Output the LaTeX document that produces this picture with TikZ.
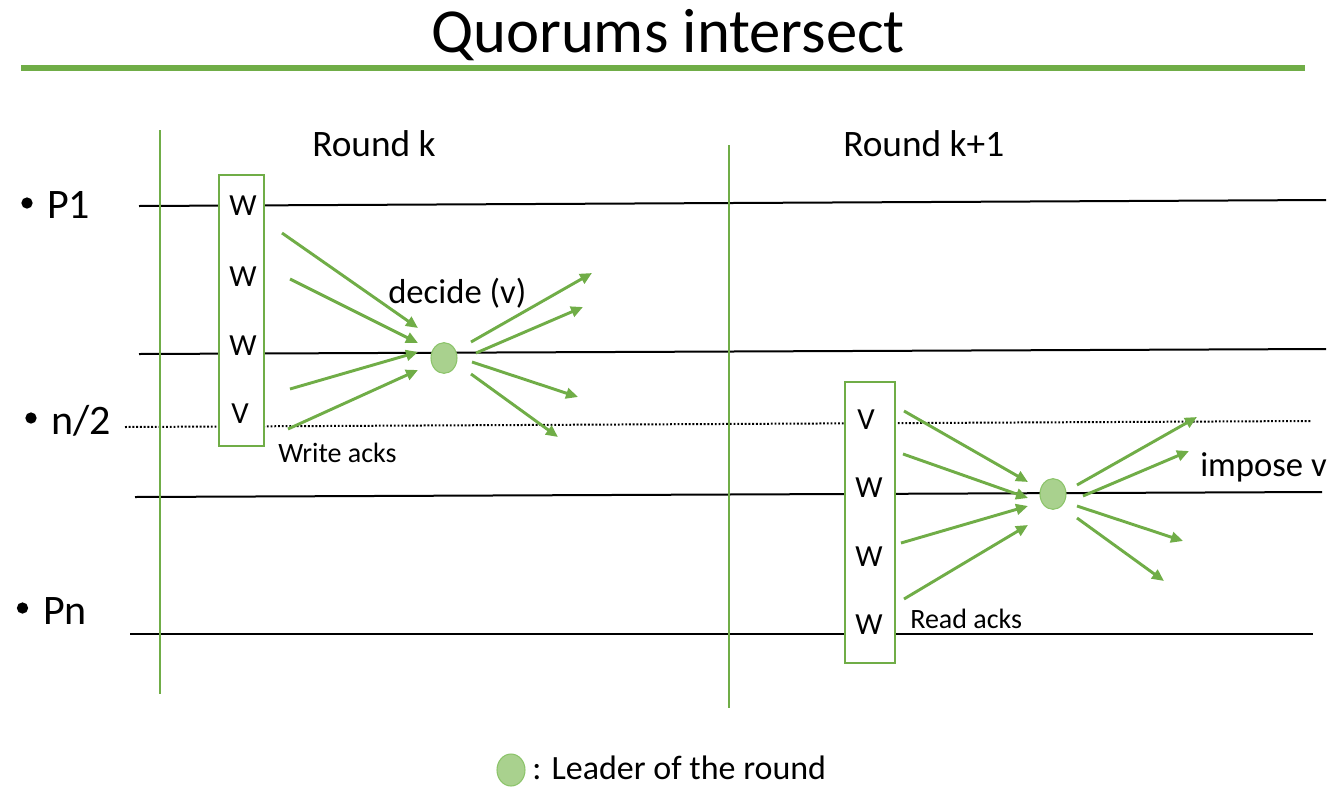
\documentclass[tikz,border=0pt]{standalone}
\usepackage{fontspec}
\setmainfont{Carlito}
\usetikzlibrary{arrows.meta,shapes.geometric}
\definecolor{ogreen}{HTML}{70AD47}
\definecolor{leaderfill}{HTML}{A9D18E}
\definecolor{leaderedge}{HTML}{8CC46A}
\begin{document}
\begin{tikzpicture}[x=0.75pt,y=-0.75pt,
  timeline/.style={line width=1.5pt,black},
  halfline/.style={line width=1.5pt,black,dash pattern=on 1.4pt off 1.4pt},
  roundline/.style={line width=1.5pt,ogreen},
  msg/.style={line width=2.2pt,ogreen,-{Triangle[length=9pt,width=8pt]}},
  quorum/.style={draw=ogreen,line width=2pt,fill=white,inner sep=0pt},
  leader/.style={ellipse,fill=leaderfill,draw=leaderedge,line width=0.8pt,
    minimum width=19.5pt,minimum height=23pt,inner sep=0pt},
  val/.style={inner sep=0pt,font=\fontsize{23}{23}\selectfont},
  dot/.style={circle,fill=black,inner sep=0pt,minimum size=8.5pt},
  proc/.style={inner sep=0pt,anchor=base west,font=\fontsize{31.5}{31.5}\selectfont},
  big/.style={inner sep=0pt,anchor=base west,font=\fontsize{28}{28}\selectfont},
  mid/.style={inner sep=0pt,anchor=base west,font=\fontsize{26}{26}\selectfont},
  small/.style={inner sep=0pt,anchor=base west,font=\fontsize{21}{21}\selectfont},
]
\useasboundingbox (0,0) rectangle (1332,786);

% title and rule
\node[inner sep=0pt,anchor=base,font=\fontsize{47}{47}\selectfont] (title) at (668,52) {Quorums intersect};
\coordinate (ruleL) at (21,68);
\coordinate (ruleR) at (1305,68);
\draw[ogreen,line width=4pt] (ruleL) -- (ruleR);

% process timelines
\coordinate (p1L) at (139,206);   \coordinate (p1R) at (1326,200);
\coordinate (p2L) at (139,354);   \coordinate (p2R) at (1326,349);
\coordinate (hL)  at (125,427);   \coordinate (hR)  at (1312,421);
\coordinate (p4L) at (135,497);   \coordinate (p4R) at (1322,492);
\coordinate (pnL) at (130,634);   \coordinate (pnR) at (1313,634);
\draw[timeline] (p1L) -- (p1R);
\draw[timeline] (p2L) -- (p2R);
\draw[halfline] (hL) -- (hR);
\draw[timeline] (p4L) -- (p4R);
\draw[timeline] (pnL) -- (pnR);

% round boundaries
\coordinate (r1T) at (160,130); \coordinate (r1B) at (160,694);
\coordinate (r2T) at (729,145); \coordinate (r2B) at (729,708);
\draw[roundline] (r1T) -- (r1B);
\draw[roundline] (r2T) -- (r2B);

% process labels with bullets
\node[dot] (d1) at (27,203) {};
\node[dot] (d2) at (31,418) {};
\node[dot] (d3) at (22.5,608) {};
\node[proc] (lp1) at (47,218) {P1};
\node[proc] (lhalf) at (51,434) {n/2};
\node[proc] (lpn) at (43,624) {Pn};

% round labels
\node[big] (rk) at (312,156) {Round k};
\node[big] (rk1) at (843,156) {Round k+1};

% quorum boxes
\node[quorum,minimum width=33.75pt,minimum height=203.25pt] (q1) at (241.5,310.5) {};
\node[quorum,minimum width=37.5pt,minimum height=210.75pt] (q2) at (870,522.5) {};
\node[val] (a1) at (243,206) {W};
\node[val] (a2) at (243,277) {W};
\node[val] (a3) at (243,346) {W};
\node[val] (a4) at (240,414) {V};
\node[val] (b1) at (866,420) {V};
\node[val] (b2) at (869,488) {W};
\node[val] (b3) at (869,557) {W};
\node[val] (b4) at (869,625) {W};

% leaders
\node[leader] (lead1) at (444,358) {};
\node[leader] (lead2) at (1053,494) {};

% round k messages
\foreach \xa/\ya/\xb/\yb [count=\i] in {
  282/233/418/328, 290/279/418/343, 290/389/418/352, 288/429/418/370,
  471/342/592/273, 476/353/583/307, 472/362/578/397, 471/374/558/437} {
  \coordinate (ks\i) at (\xa,\ya);
  \coordinate (ke\i) at (\xb,\yb);
  \draw[msg] (ks\i) -- (ke\i);
}
% round k+1 messages
\foreach \xa/\ya/\xb/\yb [count=\i] in {
  904/411/1028/482, 903/454/1028/498, 901/543/1028/506, 904/599/1028/525,
  1077/485/1197/417, 1083/496/1189/451, 1077/506/1183/541, 1077/518/1164/581} {
  \coordinate (ms\i) at (\xa,\ya);
  \coordinate (me\i) at (\xb,\yb);
  \draw[msg] (ms\i) -- (me\i);
}

% annotations
\node[mid] (decide) at (388,303) {decide (v)};
\node[mid] (impose) at (1200,476) {impose v};
\node[small] (wacks) at (278,462) {Write acks};
\node[small] (racks) at (910,628) {Read acks};

% legend
\node[leader,minimum width=21pt,minimum height=24pt] (legdot) at (511,770) {};
\node[inner sep=0pt,anchor=base west,font=\fontsize{25.5}{25.5}\selectfont] (legtxt) at (532,779) {: Leader of the round};
\end{tikzpicture}
\end{document}
